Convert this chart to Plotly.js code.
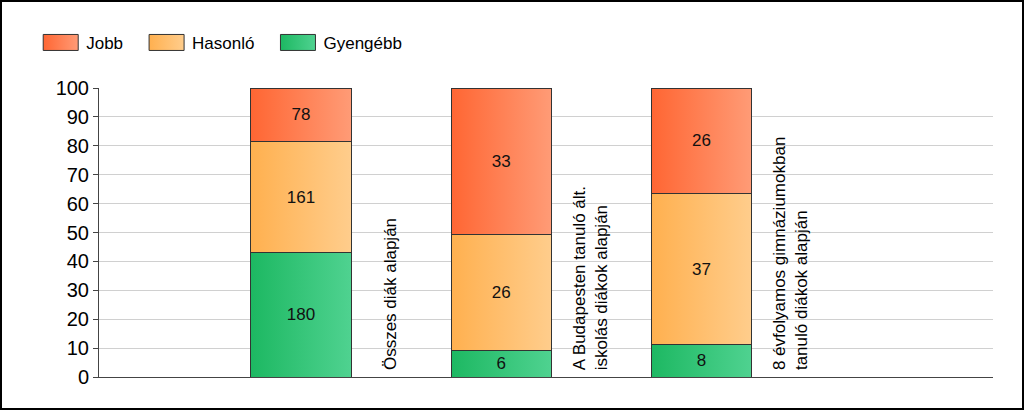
<!DOCTYPE html>
<html>
<head>
<meta charset="utf-8">
<script src="https://cdn.plot.ly/plotly-3.0.1.min.js"></script>
<style>
  html, body { margin: 0; padding: 0; background: #fff; }
  #wrap { position: relative; width: 1024px; height: 410px; }
  #chart { width: 1024px; height: 410px; }
  #frame { position: absolute; left: 0; top: 0; width: 1024px; height: 410px; box-sizing: border-box; border: 2px solid #000; pointer-events: none; }
</style>
</head>
<body>
<div id="wrap"><div id="chart"></div><div id="frame"></div></div>
<script>
// Categories (x slots) and their labels
const categories = [1, 2, 3];
const categoryLabels = [
  "Összes diák alapján",
  "A Budapesten tanuló ált.<br>iskolás diákok alapján",
  "8 évfolyamos gimnáziumokban<br>tanuló diákok alapján"
];
// Series counts (stacked, normalised to percent)
const gyengebb = [180, 6, 8];
const hasonlo = [161, 26, 37];
const jobb = [78, 33, 26];
const yTicks = [0, 10, 20, 30, 40, 50, 60, 70, 80, 90, 100];

const seriesNames = ["Gyengébb", "Hasonló", "Jobb"];
const seriesValues = [gyengebb, hasonlo, jobb];
const gradStops = [
  ["#1db862", "#4fd290"],
  ["#ffb04f", "#ffcd8c"],
  ["#ff6633", "#ff9b76"]
];

const FONT = "Liberation Sans, Arial, sans-serif";

const data = seriesValues.map((vals, i) => ({
  type: "bar",
  name: seriesNames[i],
  x: categories,
  y: vals,
  text: vals.map(String),
  texttemplate: "%{text}",
  textposition: "inside",
  insidetextanchor: "middle",
  textangle: 0,
  textfont: { family: FONT, size: 17, color: "#111" },
  width: 0.5,
  marker: { color: gradStops[i][0], line: { color: "#333", width: 1 } },
  hoverinfo: "skip"
}));

const annotations = categories.map((c, i) => ({
  x: c + 0.445, y: 0, xref: "x", yref: "y",
  text: categoryLabels[i],
  textangle: -90,
  xanchor: "center", yanchor: "bottom",
  yshift: 5,
  align: "left",
  showarrow: false,
  font: { family: FONT, size: 17, color: "#000" }
}));

const layout = {
  width: 1024, height: 410,
  margin: { l: 99, r: 31, t: 88, b: 33, autoexpand: false },
  paper_bgcolor: "#fff", plot_bgcolor: "#fff",
  barmode: "stack",
  barnorm: "percent",
  showlegend: true,
  legend: {
    orientation: "h", x: -0.0859, y: 1.156, xanchor: "left", yanchor: "middle",
    traceorder: "reversed",
    font: { family: FONT, size: 17, color: "#000" },
    itemwidth: 54,
    bgcolor: "rgba(0,0,0,0)"
  },
  uniformtext: { minsize: 17, mode: "show" },
  xaxis: {
    range: [-0.0087, 4.456],
    showgrid: false, zeroline: false,
    showticklabels: false, ticks: "",
    showline: true, linecolor: "#444", linewidth: 1,
    fixedrange: true
  },
  yaxis: {
    range: [0, 100],
    tickvals: yTicks,
    ticktext: yTicks.map(String),
    tickfont: { family: FONT, size: 20, color: "#000" },
    ticks: "outside", ticklen: 5, tickcolor: "#444",
    showline: true, linecolor: "#444", linewidth: 1,
    showgrid: true, gridcolor: "#d0d0d0", gridwidth: 1,
    zeroline: false,
    fixedrange: true
  },
  annotations: annotations
};

Plotly.newPlot("chart", data, layout, { displayModeBar: false, staticPlot: true }).then(gd => {
  const svg = gd.querySelector("svg.main-svg");
  const NS = "http://www.w3.org/2000/svg";
  let defs = svg.querySelector("defs");
  if (!defs) { defs = document.createElementNS(NS, "defs"); svg.insertBefore(defs, svg.firstChild); }
  gradStops.forEach((st, i) => {
    const g = document.createElementNS(NS, "linearGradient");
    g.setAttribute("id", "grad" + i);
    g.setAttribute("x1", "0"); g.setAttribute("y1", "0");
    g.setAttribute("x2", "1"); g.setAttribute("y2", "0");
    [[0, st[0]], [1, st[1]]].forEach(([o, c]) => {
      const s = document.createElementNS(NS, "stop");
      s.setAttribute("offset", o); s.setAttribute("stop-color", c);
      g.appendChild(s);
    });
    defs.appendChild(g);
  });
  const traces = gd.querySelectorAll(".barlayer .trace");
  traces.forEach((t, i) => {
    t.querySelectorAll(".point path").forEach(p => { p.style.fill = "url(#grad" + i + ")"; });
  });
  const items = gd.querySelectorAll(".legend .traces");
  items.forEach(it => {
    const txt = it.querySelector(".legendtext");
    const idx = seriesNames.indexOf(txt.textContent);
    const tLeft = txt.getBoundingClientRect().left;
    it.querySelectorAll(".legendpoints path").forEach(p => {
      const pLeft = p.getBoundingClientRect().left; // corresponds to d x = -6
      const x0 = -6 + (tLeft - 43) - pLeft;
      p.setAttribute("d", "M" + x0 + ",-8H" + (x0 + 35) + "V8H" + x0 + "Z");
      p.style.fill = "url(#grad" + idx + ")";
      p.style.stroke = "#333";
      p.style.strokeWidth = "1px";
    });
  });
});
</script>
</body>
</html>
